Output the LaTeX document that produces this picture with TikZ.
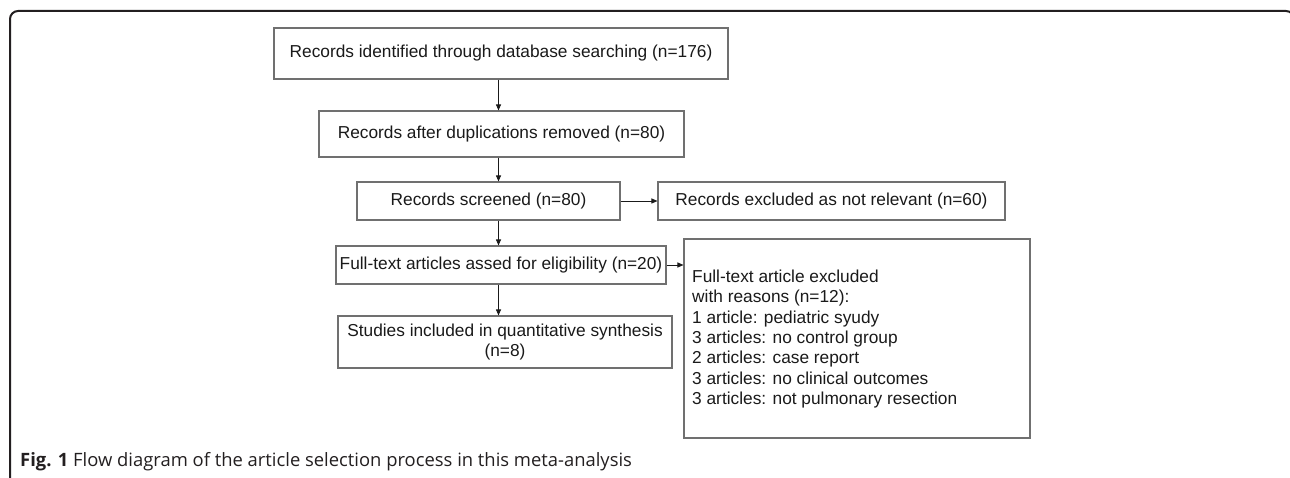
\documentclass[tikz,border=0pt]{standalone}
\usepackage{fontspec}
\setmainfont{Liberation Sans}
\newfontfamily\capfont{Open Sans}
\usetikzlibrary{arrows.meta}
\definecolor{boxgray}{HTML}{707070}
\definecolor{textc}{HTML}{1A1A1A}
\definecolor{framec}{HTML}{231F20}
\tikzset{
  box/.style={draw=boxgray, line width=1.1pt, fill=white, inner sep=0pt,
    font=\fontsize{17.3}{20.3}\selectfont, text=textc, align=center},
  arr/.style={-{Triangle[length=6pt,width=5pt]}, line width=0.9pt, draw=textc},
  frame/.style={draw=framec, line width=2pt, rounded corners=8pt}
}
\begin{document}
\begin{tikzpicture}[x=1pt,y=-1pt]
\useasboundingbox (0,0) rectangle (1290,478);
\begin{scope}
\clip (0,0) rectangle (1290,478);
\draw[frame] (10,490) -- (10,11) -- (1294,11) -- (1294,490);
\end{scope}
\node[box, minimum width=454pt, minimum height=51pt] (b1) at (501,53.5) {Records identified through database searching (n=176)};
\node[box, minimum width=365pt, minimum height=46pt] (b2) at (501.5,134) {Records after duplications removed (n=80)};
\node[box, minimum width=263pt, minimum height=38pt] (b3) at (488.5,201) {Records screened (n=80)};
\node[box, minimum width=347pt, minimum height=38pt] (b3x) at (831.5,201) {Records excluded as not relevant (n=60)};
\node[box, minimum width=330pt, minimum height=38pt] (b4) at (501,265) {Full-text articles assed for eligibility (n=20)};
\node[box, minimum width=334pt, minimum height=52pt] (b5) at (505,342) {Studies included in quantitative synthesis\\(n=8)};
\node[box, minimum width=346pt, minimum height=199pt] (b4x) at (857,338.5) {};
\node[font=\fontsize{17.3}{20.3}\selectfont, text=textc, align=left, anchor=west, inner sep=0pt] (t4x) at (692,339) {Full-text article excluded\\with reasons (n=12):\\1 article: pediatric syudy\\3 articles: no control group\\2 articles: case report\\3 articles: no clinical outcomes\\3 articles: not pulmonary resection};
\coordinate (ax) at (498.5,0);
\draw[arr] (b1.south -| ax) -- (b2.north -| ax);
\draw[arr] (b2.south -| ax) -- (b3.north -| ax);
\draw[arr] (b3.south -| ax) -- (b4.north -| ax);
\draw[arr] (b4.south -| ax) -- (b5.north -| ax);
\draw[arr] (b3.east) -- (b3x.west);
\draw[arr] (b4.east) -- (b4.east -| b4x.west);
\node[anchor=base west, inner sep=0pt, text=framec, font=\capfont\fontsize{18.4}{21}\selectfont] (cap) at (20,466) {\textbf{Fig. 1} Flow diagram of the article selection process in this meta-analysis};
\end{tikzpicture}
\end{document}
